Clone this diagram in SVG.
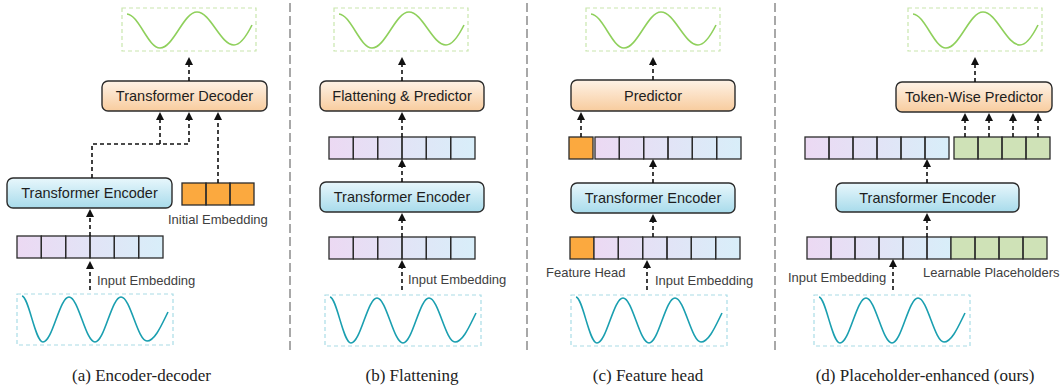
<svg xmlns="http://www.w3.org/2000/svg" xmlns:xlink="http://www.w3.org/1999/xlink" width="1062" height="387" viewBox="0 0 1062 387">
<style>
.box{stroke:#2b2b2b;stroke-width:1.4}
.dec{fill:url(#gDec)}
.enc{fill:url(#gEnc)}
.bt{font-family:"Liberation Sans",Arial,sans-serif;font-size:14.5px;fill:#1e1e1e;text-anchor:middle}
.lb{font-family:"Liberation Sans",Arial,sans-serif;font-size:13px;fill:#404040}
.cap{font-family:"Liberation Serif","Times New Roman",serif;font-size:17px;fill:#222;text-anchor:middle}
.cell{fill:none;stroke:#2b2b2b;stroke-width:1.3}
.row{fill:url(#gRow)}
.org{fill:#fba93f}
.grn{fill:#cfe2b7}
.arr{fill:none;stroke:#111;stroke-width:1.6;stroke-dasharray:4 3;marker-end:url(#ah)}
.div{stroke:#a8a8a8;stroke-width:2;stroke-dasharray:9 4}
.gbox{fill:#fff;stroke:#c9e6ad;stroke-width:1.2;stroke-dasharray:4 3}
.tbox{fill:#fff;stroke:#a9dce6;stroke-width:1.2;stroke-dasharray:4 3}
.gw{fill:none;stroke:#8fd05c;stroke-width:1.6}
.tw{fill:none;stroke:#1a9fb0;stroke-width:1.6}
</style>
<defs>
<linearGradient id="gDec" x1="0" y1="0" x2="0" y2="1"><stop offset="0" stop-color="#fef2e6"/><stop offset="1" stop-color="#f8cc9e"/></linearGradient>
<linearGradient id="gEnc" x1="0" y1="0" x2="0" y2="1"><stop offset="0" stop-color="#e8f7fc"/><stop offset="1" stop-color="#a8dbeb"/></linearGradient>
<linearGradient id="gRow" x1="0" y1="0" x2="1" y2="0"><stop offset="0" stop-color="#ecd9f3"/><stop offset="1" stop-color="#d8eef9"/></linearGradient>
<marker id="ah" markerWidth="8" markerHeight="8" refX="0" refY="4" orient="auto" markerUnits="userSpaceOnUse"><path d="M0,0 L8,4 L0,8 z" fill="#111"/></marker>
<g id="outWave"><rect class="gbox" x="0" y="0" width="134" height="43"/><path class="gw" d="M5,6 C17,7 26,40 38,40 C51.5,40 61.5,4 75,4 C88.5,4 98.5,37 112,37 C119,37 125,27 130,17"/></g>
<g id="inWave"><rect class="tbox" x="0" y="0" width="156" height="51"/><path class="tw" d="M5,2 C12,3 18,48 26,48 C35.5,48 42.5,3 52,3 C61.5,3 68.5,48 78,48 C87.5,48 94.5,3 104,3 C113.5,3 120.5,47 130,47 C138,47 145,30 151,18"/></g>
<g id="row6"><rect class="row" x="0" y="0" width="146" height="22"/><g class="cell"><rect x="0" y="0" width="24.33" height="22"/><rect x="24.33" y="0" width="24.33" height="22"/><rect x="48.67" y="0" width="24.33" height="22"/><rect x="73" y="0" width="24.33" height="22"/><rect x="97.33" y="0" width="24.33" height="22"/><rect x="121.67" y="0" width="24.33" height="22"/></g></g>
<g id="row6s"><rect class="row" x="0" y="0" width="144" height="22"/><g class="cell"><rect x="0" y="0" width="24" height="22"/><rect x="24" y="0" width="24" height="22"/><rect x="48" y="0" width="24" height="22"/><rect x="72" y="0" width="24" height="22"/><rect x="96" y="0" width="24" height="22"/><rect x="120" y="0" width="24" height="22"/></g></g>
<g id="grn4"><rect class="grn" x="0" y="0" width="96" height="22"/><g class="cell"><rect x="0" y="0" width="24" height="22"/><rect x="24" y="0" width="24" height="22"/><rect x="48" y="0" width="24" height="22"/><rect x="72" y="0" width="24" height="22"/></g></g>
</defs>
<rect width="1062" height="387" fill="#fff"/>

<g id="dividers">
<line class="div" x1="290" y1="3" x2="290" y2="353"/>
<line class="div" x1="527" y1="3" x2="527" y2="353"/>
<line class="div" x1="775" y1="3" x2="775" y2="353"/>
</g>

<!-- Panel (a) -->
<g id="a-output"><use xlink:href="#outWave" x="122" y="8"/></g>
<g id="a-decoder"><rect class="box dec" x="102" y="81" width="165" height="30" rx="6"/><text class="bt" x="184.5" y="101.2">Transformer Decoder</text></g>
<g id="a-encoder"><rect class="box enc" x="7" y="178" width="165" height="30" rx="6"/><text class="bt" x="89.5" y="198.2">Transformer Encoder</text></g>
<g id="a-initial"><rect class="org" x="182" y="183" width="72" height="22"/><g class="cell"><rect x="182" y="183" width="24" height="22"/><rect x="206" y="183" width="24" height="22"/><rect x="230" y="183" width="24" height="22"/></g><text class="lb" x="168" y="224">Initial Embedding</text></g>
<g id="a-embed"><use xlink:href="#row6" x="17" y="236"/><text class="lb" x="97" y="285">Input Embedding</text></g>
<g id="a-input"><use xlink:href="#inWave" x="17" y="294"/></g>
<g id="a-caption"><text class="cap" x="141.5" y="381">(a) Encoder-decoder</text></g>

<!-- Panel (b) -->
<g id="b-output"><use xlink:href="#outWave" x="334" y="8"/></g>
<g id="b-predictor"><rect class="box dec" x="320" y="81" width="164" height="30" rx="6"/><text class="bt" x="402" y="101.2">Flattening &amp; Predictor</text></g>
<g id="b-tokens"><use xlink:href="#row6" x="329" y="137"/></g>
<g id="b-encoder"><rect class="box enc" x="320" y="182" width="164" height="30" rx="6"/><text class="bt" x="402" y="202.2">Transformer Encoder</text></g>
<g id="b-embed"><use xlink:href="#row6" x="329" y="237"/><text class="lb" x="408" y="284">Input Embedding</text></g>
<g id="b-input"><use xlink:href="#inWave" x="325" y="295"/></g>
<g id="b-caption"><text class="cap" x="412" y="381">(b) Flattening</text></g>

<!-- Panel (c) -->
<g id="c-output"><use xlink:href="#outWave" x="586" y="8"/></g>
<g id="c-predictor"><rect class="box dec" x="571" y="80" width="164" height="31" rx="6"/><text class="bt" x="653" y="100.7">Predictor</text></g>
<g id="c-tokens"><rect class="org cell" x="569" y="137" width="24" height="22" style="fill:#fba93f"/><use xlink:href="#row6" x="595" y="137"/></g>
<g id="c-encoder"><rect class="box enc" x="571" y="183" width="164" height="30" rx="6"/><text class="bt" x="653" y="203.2">Transformer Encoder</text></g>
<g id="c-embed"><rect class="cell" x="570" y="237" width="24" height="22" style="fill:#fba93f"/><use xlink:href="#row6" x="594" y="237"/><text class="lb" x="546" y="277">Feature Head</text><text class="lb" x="655" y="285">Input Embedding</text></g>
<g id="c-input"><use xlink:href="#inWave" x="571" y="295"/></g>
<g id="c-caption"><text class="cap" x="648" y="381">(c) Feature head</text></g>

<!-- Panel (d) -->
<g id="d-output"><use xlink:href="#outWave" x="908" y="8"/></g>
<g id="d-predictor"><rect class="box dec" x="896" y="82" width="156" height="30" rx="6"/><text class="bt" x="974" y="102.2">Token-Wise Predictor</text></g>
<g id="d-tokens"><use xlink:href="#row6s" x="805" y="137"/><use xlink:href="#grn4" x="954" y="137"/></g>
<g id="d-encoder"><rect class="box enc" x="836" y="183" width="183" height="29" rx="6"/><text class="bt" x="927.5" y="202.7">Transformer Encoder</text></g>
<g id="d-embed"><use xlink:href="#row6s" x="807" y="237"/><use xlink:href="#grn4" x="951" y="237"/><text class="lb" x="788" y="282">Input Embedding</text><text class="lb" x="923" y="277">Learnable Placeholders</text></g>
<g id="d-input"><use xlink:href="#inWave" x="814" y="295"/></g>
<g id="d-caption"><text class="cap" x="925" y="381">(d) Placeholder-enhanced (ours)</text></g>

<g id="connectors">
<!-- a -->
<path class="arr" d="M189,81 V65"/>
<path class="arr" d="M92,178 V144 H189 V120"/>
<path class="arr" d="M160,144 V120"/>
<path class="arr" d="M218,183 V120"/>
<path class="arr" d="M90,236 V217"/>
<path class="arr" d="M90,290 V269"/>
<!-- b -->
<path class="arr" d="M402,81 V65"/>
<path class="arr" d="M402,137 V120"/>
<path class="arr" d="M402,182 V167"/>
<path class="arr" d="M402,237 V221"/>
<path class="arr" d="M402,290 V268"/>
<!-- c -->
<path class="arr" d="M653,80 V65"/>
<path class="arr" d="M581,137 V120"/>
<path class="arr" d="M653,183 V167"/>
<path class="arr" d="M653,237 V222"/>
<path class="arr" d="M647,290 V268"/>
<!-- d -->
<path class="arr" d="M975,82 V65"/>
<path class="arr" d="M965,137 V121"/>
<path class="arr" d="M989,137 V121"/>
<path class="arr" d="M1013,137 V121"/>
<path class="arr" d="M1038,137 V121"/>
<path class="arr" d="M927,183 V167"/>
<path class="arr" d="M927,237 V221"/>
<path class="arr" d="M893,290 V267"/>
</g>
</svg>
